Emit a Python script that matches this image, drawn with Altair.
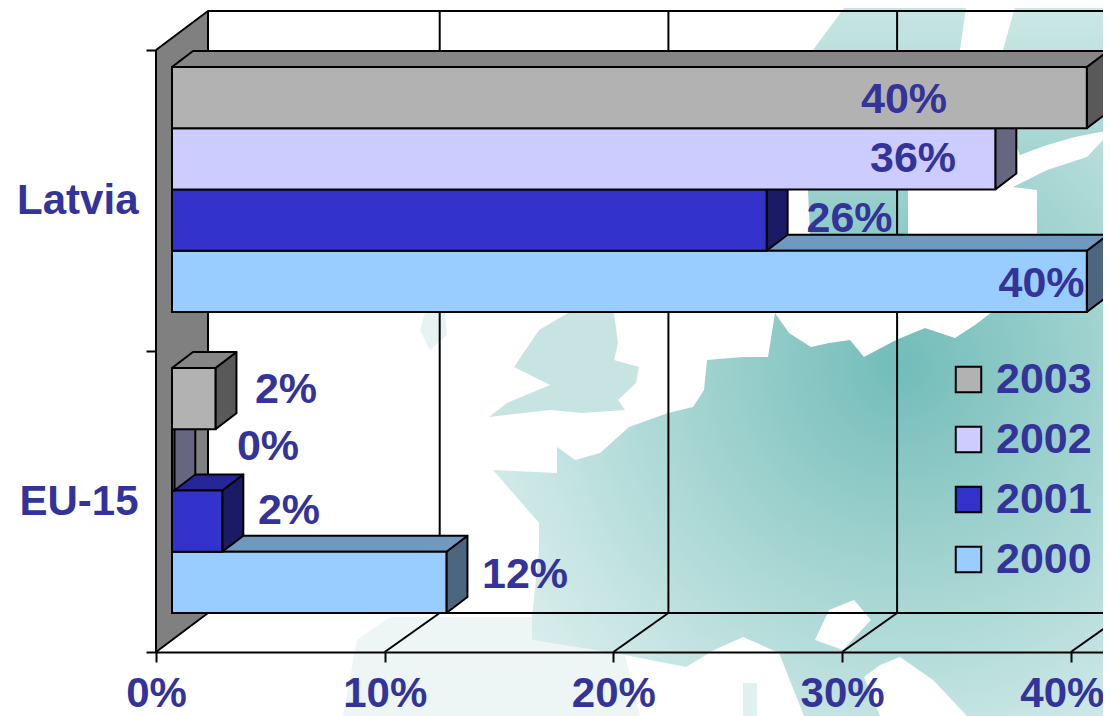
import altair as alt
import pandas as pd

categories = ["EU-15", "Latvia"]
years = [2000, 2001, 2002, 2003]
values_eu = [12.0, 2.2, 0.1, 1.9]
values_latvia = [40.0, 26.0, 36.0, 40.0]
labels_eu = ["12%", "2%", "0%", "2%"]
labels_latvia = ["40%", "26%", "36%", "40%"]
front_colors = ["#99CCFF", "#3333CC", "#CCCCFF", "#B2B2B2"]
top_colors = ["#7099C0", "#262699", "#9999C0", "#868686"]
side_colors = ["#4D6680", "#1A1A66", "#666680", "#595959"]
x_ticks = [0, 10, 20, 30, 40]
TEXT = "#333399"
FONT = "Liberation Sans"

# drawing scale (pixels per unit) used only to express picture geometry in data units
PX = 22.87
PY = 301.0
PLOT_W = 947
PLOT_H = 644
XMAX = PLOT_W / PX
YMAX = PLOT_H / PY


def ux(px):
    return (px - 156) / PX


def uy(py):
    return (652 - py) / PY


X_SCALE = alt.Scale(domain=[0, XMAX], nice=False, zero=False)
Y_SCALE = alt.Scale(domain=[0, YMAX], nice=False, zero=False)

X_AXIS = alt.Axis(
    values=x_ticks, labelExpr="datum.value + '%'", labelFont=FONT, labelFontSize=42,
    labelFontWeight="bold", labelColor=TEXT, labelPadding=11, labelOverlap=False, labelFlush=False,
    labelBound=False, labelOffset=alt.expr("datum.value == 40 ? -9 : 0"), tickColor="black", tickWidth=2,
    tickSize=10, domainColor="black", domainWidth=2, grid=False, zindex=1)
Y_AXIS = alt.Axis(
    values=[0, 0.5, 1, 1.5, 2],
    labelExpr=f"datum.value == 0.5 ? '{categories[0]}' : datum.value == 1.5 ? '{categories[1]}' : ''",
    labelFont=FONT, labelFontSize=42, labelFontWeight="bold", labelColor=TEXT, labelPadding=8,
    labelOverlap=False, labelBound=False, labelFlush=False, tickColor="black", tickWidth=2, tickSize=10,
    tickOpacity=alt.expr("datum.value % 1 ? 0 : 1"), domain=False, grid=False, zindex=1)


def xenc():
    return alt.X("x:Q", scale=X_SCALE, title=None, axis=X_AXIS)


def yenc():
    return alt.Y("y:Q", scale=Y_SCALE, title=None, axis=Y_AXIS)


def poly(points, fill=None, stroke=None, sw=2.0, pixels=True):
    rows = []
    for i, (a, b) in enumerate(points):
        rows.append({"x": ux(a) if pixels else a, "y": uy(b) if pixels else b, "i": i})
    kw = {"strokeWidth": sw, "strokeJoin": "round"}
    kw["stroke"] = stroke if stroke else "transparent"
    if fill:
        kw["fill"] = fill
    return alt.Chart(pd.DataFrame(rows)).mark_line(**kw).encode(x=xenc(), y=yenc(), order="i:Q")


# ---------- background map ----------
main_fill = {
    "gradient": "radial", "x1": 0.66, "y1": 0.40, "r1": 0.0,
    "x2": 0.66, "y2": 0.40, "r2": 0.85,
    "stops": [
        {"offset": 0.0, "color": "#72BCB9"},
        {"offset": 0.35, "color": "#9DD1CE"},
        {"offset": 0.7, "color": "#C6E5E3"},
        {"offset": 1.0, "color": "#E6F3F2"},
    ],
}
north_fill = {
    "gradient": "linear", "x1": 0, "y1": 1, "x2": 0, "y2": 0,
    "stops": [{"offset": 0, "color": "#8FCAC7"}, {"offset": 1, "color": "#C9E6E4"}],
}
east_fill = {
    "gradient": "linear", "x1": 0, "y1": 1, "x2": 0, "y2": 0,
    "stops": [{"offset": 0, "color": "#A3D4D1"}, {"offset": 1, "color": "#CFE9E7"}],
}
map_layers = [
    poly([(343, 716), (357, 640), (390, 617), (532, 617), (532, 640), (625, 655), (640, 716)], "#EDF6F5"),
    poly([(425, 313), (445, 313), (447, 335), (430, 350), (420, 330)], "#E6F3F2"),
    poly([(568, 313), (614, 313), (618, 343), (614, 360), (639, 367), (636, 383), (618, 400), (625, 410),
          (582, 413), (550, 410), (489, 417), (507, 403), (550, 385), (514, 367), (539, 330)], "#C7E4E2"),
    poly([(1111, 716), (967, 716), (933, 680), (900, 657), (880, 665), (864, 677), (880, 716), (804, 716),
          (779, 653), (743, 637), (714, 650), (686, 667), (625, 655), (532, 640), (532, 617), (539, 550),
          (539, 523), (493, 470), (557, 473), (557, 447), (575, 460), (600, 453), (629, 427), (668, 413),
          (693, 407), (704, 390), (707, 360), (743, 357), (768, 357), (775, 313), (789, 333), (811, 347),
          (829, 343), (850, 340), (864, 357), (896, 340), (925, 328), (955, 338), (975, 325), (992, 312),
          (1040, 300), (1037, 233), (1037, 190), (1013, 187), (1047, 170), (1087, 157), (1103, 140),
          (1111, 138)], main_fill),
    poly([(829, 610), (854, 600), (871, 620), (843, 650), (815, 640)], "#FFFFFF"),
    poly([(743, 683), (757, 683), (757, 716), (743, 716)], "#E0F0EF"),
    poly([(813, 50), (850, 0), (967, 0), (960, 50), (930, 120), (908, 190), (908, 235), (810, 235), (808, 190)], north_fill),
    poly([(1003, 50), (1017, 0), (1111, 0), (1111, 130), (1075, 137), (1047, 145), (1020, 155), (1005, 120)], east_fill),
]

# ---------- chart frame ----------
frame = [
    poly([(156, 50), (208, 11), (208, 613), (156, 652), (156, 50)], "#808080", "black"),
    poly([(208, 11), (1111, 11)], None, "black"),
    poly([(208, 613), (1111, 613)], None, "black"),
]
for t in x_ticks[1:]:
    fx = 156 + t * PX
    frame.append(poly([(fx, 652), (fx + 55, 613)], None, "black"))
    if fx + 55 < 1111:
        frame.append(poly([(fx + 55, 613), (fx + 55, 11)], None, "black"))

# ---------- bars ----------
START = 16 / PX
DX = 21 / PX
DY = 16 / PY
BASE = 39 / PY
BAR = 61.25 / PY
color_scale = alt.Scale(domain=[str(y) for y in years[::-1]], range=front_colors[::-1])
legend = alt.Legend(
    orient="none", legendX=791, legendY=350, title=None, symbolType="square", symbolSize=650,
    symbolStrokeColor="black", symbolStrokeWidth=2, labelFont=FONT, labelFontSize=43,
    labelFontWeight="bold", labelColor=TEXT, labelOffset=6, rowPadding=16, padding=0,
)

bar_layers = []
for yi, year in enumerate(years):
    rects = []
    for c, vals in enumerate([values_eu, values_latvia]):
        v = vals[yi]
        y0 = c + BASE + yi * BAR
        y1 = y0 + BAR
        x0 = START
        x1 = START + v
        bar_layers.append(poly([(x1, y0), (x1 + DX, y0 + DY), (x1 + DX, y1 + DY), (x1, y1), (x1, y0)],
                               side_colors[yi], "black", pixels=False))
        bar_layers.append(poly([(x0, y1), (x0 + DX, y1 + DY), (x1 + DX, y1 + DY), (x1, y1), (x0, y1)],
                               top_colors[yi], "black", pixels=False))
        rects.append({"x": x0, "x2": x1, "y": y0, "y2": y1, "year": str(year)})
    bar_layers.append(
        alt.Chart(pd.DataFrame(rects)).mark_rect(stroke="black", strokeWidth=2).encode(
            x=xenc(), x2="x2:Q", y=yenc(), y2="y2:Q",
            color=alt.Color("year:N", scale=color_scale, legend=legend),
        )
    )

# ---------- data labels ----------
label_x = [525, 289, 268, 286, 1041.5, 849.5, 913, 904]
label_y = [588, 524, 460, 403, 297, 232, 172, 113]
label_text = labels_eu + labels_latvia
label_df = pd.DataFrame({"x": [ux(a) for a in label_x], "y": [uy(b) for b in label_y], "t": label_text})
label_layer = alt.Chart(label_df).mark_text(
    font=FONT, fontSize=43, fontWeight="bold", color=TEXT, align="center", baseline="alphabetic"
).encode(x=xenc(), y=yenc(), text="t:N")

chart = alt.layer(*map_layers, *frame, *bar_layers, label_layer).properties(
    width=PLOT_W, height=PLOT_H, background="white",
    padding={"left": 148, "top": 0, "right": 0, "bottom": 64},
    autosize=alt.AutoSizeParams(type="none"),
).configure_view(stroke=None)

chart.save("out.html", embed_options={"renderer": "svg", "actions": False})
